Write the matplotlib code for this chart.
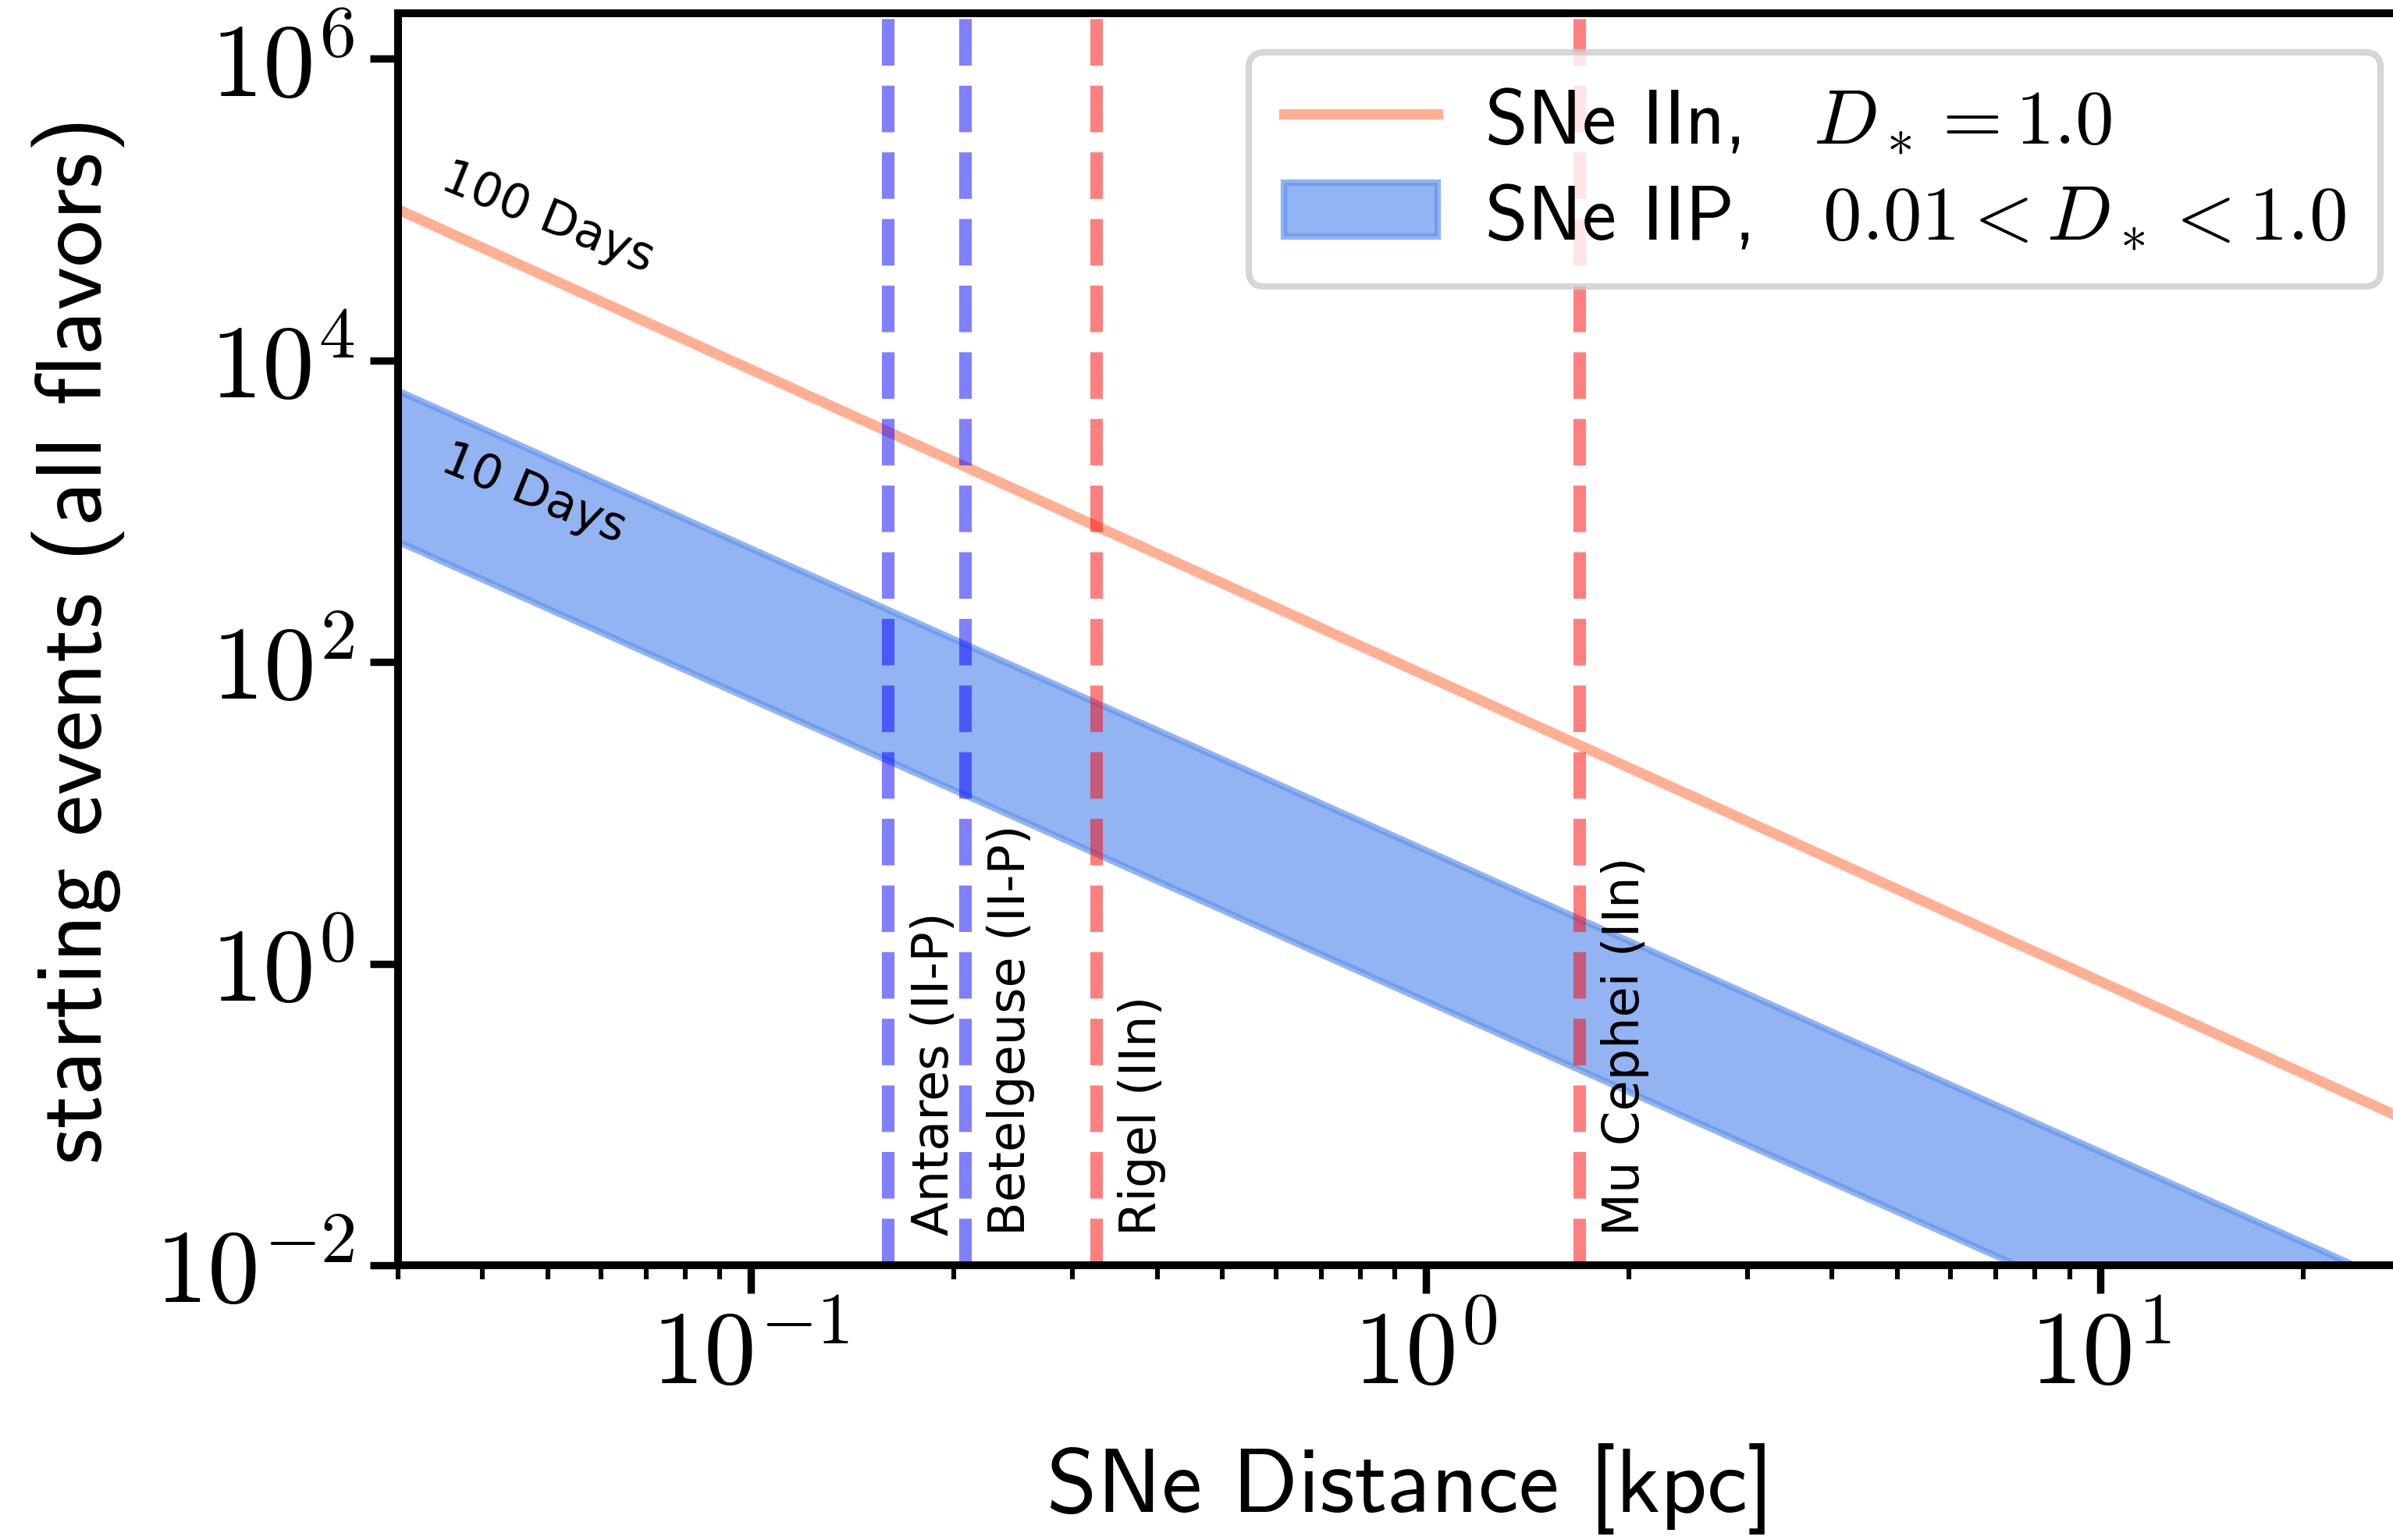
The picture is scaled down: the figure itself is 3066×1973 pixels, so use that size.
import matplotlib
matplotlib.use("Agg")
import matplotlib.pyplot as plt
from matplotlib.ticker import LogLocator, NullLocator, FixedLocator, FixedFormatter

# (endpoints of straight lines on log-log axes)
distance_kpc = [0.03, 30.0]
iin_events = [1.0e5, 0.082]
iip_upper = [6.3e3, 6.3e-3]
iip_lower = [6.3e2, 6.3e-4]

stars = ["Antares (II-P)", "Betelgeuse (II-P)", "Rigel (IIn)", "Mu Cephei (IIn)"]
star_dist = [0.16, 0.208, 0.325, 1.69]
star_colors = ["blue", "blue", "red", "red"]

xticks = [0.1, 1, 10]
xtick_labels = [r"$10^{-1}$", r"$10^{0}$", r"$10^{1}$"]
yticks = [1e-2, 1, 1e2, 1e4, 1e6]
ytick_labels = [r"$10^{-2}$", r"$10^{0}$", r"$10^{2}$", r"$10^{4}$", r"$10^{6}$"]

plt.rcParams["mathtext.fontset"] = "cm"
plt.rcParams["font.family"] = ["cmss10", "DejaVu Sans"]
plt.rcParams["axes.unicode_minus"] = False

fig = plt.figure(figsize=(7.665, 4.935), dpi=400)
ax = fig.add_axes([0.1663, 0.1783, 0.846, 0.8126])

ax.plot(distance_kpc, iin_events, color="#FFB094", lw=2.4,
        label=r"SNe IIn,$\quad D_* = 1.0$")
ax.fill_between(distance_kpc, iip_lower, iip_upper, color="cornflowerblue",
                alpha=0.7, lw=1.5,
                label=r"SNe IIP,$\quad 0.01 < D_* < 1.0$")

for name, d, c in zip(stars, star_dist, star_colors):
    ax.axvline(d, color=c, alpha=0.5, ls="--", lw=2.9)
    ax.text(d * 1.075, 0.016, name, rotation=90, ha="left", va="bottom",
            fontsize=11.5, family="DejaVu Sans")

ax.text(0.0345, 1.4e5, "100 Days", rotation=-22, rotation_mode="anchor",
        ha="left", va="baseline", fontsize=11, family="DejaVu Sans")
ax.text(0.0345, 1.9e3, "10 Days", rotation=-22, rotation_mode="anchor",
        ha="left", va="baseline", fontsize=11, family="DejaVu Sans")

ax.set_xscale("log")
ax.set_yscale("log")
ax.set_xlim(0.03, 30)
ax.set_ylim(1e-2, 2e6)
ax.xaxis.set_major_locator(FixedLocator(xticks))
ax.xaxis.set_major_formatter(FixedFormatter(xtick_labels))
ax.xaxis.set_minor_locator(LogLocator(subs=range(2, 10)))
ax.yaxis.set_major_locator(FixedLocator(yticks))
ax.yaxis.set_major_formatter(FixedFormatter(ytick_labels))
ax.yaxis.set_minor_locator(NullLocator())

for s in ax.spines.values():
    s.set_linewidth(1.8)
ax.tick_params(which="major", length=6.5, width=1.7, labelsize=24)
ax.tick_params(which="minor", length=3.3, width=1.1)

ax.set_xlabel("SNe Distance [kpc]", fontsize=21, labelpad=9)
ax.set_ylabel("starting events (all flavors)", fontsize=21.5, labelpad=7)

leg = ax.legend(loc="upper right", bbox_to_anchor=(0.9948, 0.9656),
                bbox_transform=fig.transFigure, borderaxespad=0,
                fontsize=17.8, fancybox=True, framealpha=0.8,
                handlelength=2.0, handletextpad=0.6, labelspacing=0.35,
                borderpad=0.45)
leg.get_frame().set_linewidth(1.5)

fig.savefig("out.png", dpi=400)
